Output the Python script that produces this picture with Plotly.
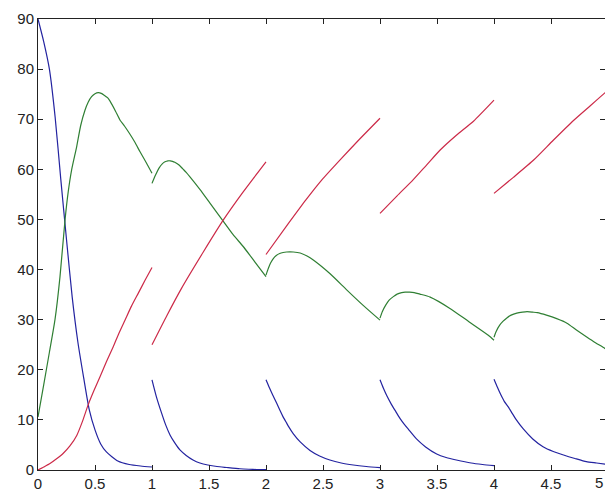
import plotly.graph_objects as go

# ---- data ----
# Blue series, five segments
blue_x1 = [0, 0.05, 0.1, 0.15, 0.2, 0.25, 0.3, 0.35, 0.4, 0.45, 0.5, 0.55, 0.6, 0.7, 0.8, 0.9, 1.0]
blue_y1 = [90, 85.5, 80, 70.5, 58, 46, 34.5, 25.5, 18.5, 12, 8, 5.2, 3.6, 1.8, 1.1, 0.8, 0.6]
blue_x2 = [1.0, 1.04, 1.085, 1.12, 1.158, 1.2, 1.245, 1.3, 1.36, 1.42, 1.49, 1.57, 1.655, 1.77, 1.85, 1.92, 2.0]
blue_y2 = [18, 14.5, 11.3, 9, 7, 5.4, 4.0, 2.9, 2.0, 1.4, 1.0, 0.7, 0.5, 0.25, 0.15, 0.1, 0.1]
blue_x3 = [2.0, 2.03, 2.06, 2.094, 2.12, 2.15, 2.18, 2.2, 2.24, 2.3, 2.386, 2.47, 2.56, 2.66, 2.766, 2.88, 3.0]
blue_y3 = [18, 16.4, 14.9, 13.3, 12.0, 10.6, 9.4, 8.6, 7.2, 5.6, 3.9, 2.8, 2.0, 1.4, 1.0, 0.7, 0.47]
blue_x4 = [3.0, 3.03, 3.06, 3.1, 3.14, 3.175, 3.21, 3.25, 3.32, 3.4, 3.497, 3.58, 3.67, 3.8, 3.9, 4.0]
blue_y4 = [18, 16.3, 14.8, 13.1, 11.6, 10.3, 9.2, 8.1, 6.2, 4.6, 3.2, 2.5, 2.0, 1.4, 1.1, 0.87]
blue_x5 = [4.0, 4.03, 4.06, 4.09, 4.125, 4.16, 4.19, 4.257, 4.34, 4.43, 4.52, 4.61, 4.71, 4.81, 4.9, 5.0]
blue_y5 = [18.1, 16.5, 15, 13.7, 12.6, 11.3, 10.2, 8.2, 6.2, 4.65, 3.7, 3.0, 2.3, 1.66, 1.4, 1.1]

# Green series
green_x1 = [0, 0.05, 0.1, 0.149, 0.193, 0.237, 0.265, 0.295, 0.339, 0.375, 0.412, 0.44, 0.47, 0.5, 0.529, 0.56, 0.58, 0.61, 0.632, 0.68, 0.72, 0.76, 0.807, 0.85, 0.895, 0.95, 1.0]
green_y1 = [10.6, 17, 23.5, 30, 38.6, 49.9, 55.5, 59.9, 64.5, 68.8, 71.8, 73.4, 74.5, 75.1, 75.3, 75.1, 74.8, 74.3, 73.6, 71.6, 69.8, 68.6, 67.0, 65.4, 63.5, 61.3, 59.2]
green_x2 = [1.0, 1.03, 1.06, 1.09, 1.114, 1.14, 1.16, 1.18, 1.2, 1.24, 1.27, 1.3, 1.333, 1.42, 1.51, 1.626, 1.71, 1.8, 1.9, 2.0]
green_y2 = [57.2, 58.8, 60.2, 61.1, 61.5, 61.7, 61.7, 61.6, 61.4, 60.8, 60.1, 59.4, 58.5, 56, 53.2, 49.6, 47, 44.6, 41.6, 38.6]
green_x3 = [2.0, 2.02, 2.04, 2.064, 2.09, 2.12, 2.15, 2.18, 2.24, 2.3, 2.36, 2.415, 2.56, 2.71, 2.85, 3.0]
green_y3 = [38.9, 40.2, 41.3, 42.2, 42.8, 43.2, 43.4, 43.5, 43.5, 43.3, 42.7, 41.9, 39.2, 35.9, 32.9, 29.9]
green_x4 = [3.0, 3.02, 3.05, 3.08, 3.117, 3.15, 3.19, 3.22, 3.26, 3.3, 3.35, 3.44, 3.61, 3.78, 3.95, 4.0]
green_y4 = [30.3, 31.6, 32.9, 33.9, 34.6, 35.1, 35.4, 35.5, 35.5, 35.4, 35.1, 34.5, 32.3, 29.6, 26.9, 25.9]
green_x5 = [4.0, 4.02, 4.05, 4.08, 4.11, 4.15, 4.2, 4.25, 4.29, 4.34, 4.38, 4.46, 4.55, 4.64, 4.72, 4.81, 4.89, 4.97, 5.0]
green_y5 = [26.5, 27.7, 28.9, 29.7, 30.3, 30.9, 31.3, 31.5, 31.6, 31.5, 31.4, 30.9, 30.2, 29.3, 28.0, 26.6, 25.4, 24.3, 23.8]

# Red series
red_x1 = [0, 0.05, 0.105, 0.16, 0.22, 0.28, 0.34, 0.39, 0.44, 0.49, 0.544, 0.6, 0.66, 0.71, 0.763, 0.82, 0.88, 0.94, 1.0]
red_y1 = [0, 0.6, 1.3, 2.2, 3.3, 4.8, 6.9, 9.7, 13, 15.8, 18.6, 21.6, 24.6, 27.3, 29.9, 32.7, 35.3, 37.9, 40.4]
red_x2 = [1.0, 1.13, 1.26, 1.45, 1.626, 1.8, 2.0]
red_y2 = [25, 30.8, 36.3, 43.5, 49.9, 55.5, 61.5]
red_x3 = [2.0, 2.2, 2.35, 2.49, 2.65, 2.82, 3.0]
red_y3 = [43, 49.3, 53.9, 57.9, 61.9, 66, 70.2]
red_x4 = [3.0, 3.15, 3.29, 3.41, 3.53, 3.67, 3.82, 4.0]
red_y4 = [51.2, 54.7, 57.9, 60.9, 63.9, 66.8, 69.6, 73.8]
red_x5 = [4.0, 4.17, 4.35, 4.52, 4.70, 4.84, 4.97, 5.0]
red_y5 = [55.2, 58.4, 61.9, 65.8, 69.8, 72.6, 75.2, 75.8]

x_ticks = [0, 0.5, 1, 1.5, 2, 2.5, 3, 3.5, 4, 4.5, 5]
x_labels = ["0", "0.5", "1", "1.5", "2", "2.5", "3", "3.5", "4", "4.5", "5"]
y_ticks = [0, 10, 20, 30, 40, 50, 60, 70, 80, 90]


def join(*pairs):
    xs, ys = [], []
    for i, (sx, sy) in enumerate(pairs):
        if i:
            xs.append(None)
            ys.append(None)
        xs.extend(sx)
        ys.extend(sy)
    return xs, ys


series = [
    (join((blue_x1, blue_y1), (blue_x2, blue_y2), (blue_x3, blue_y3), (blue_x4, blue_y4), (blue_x5, blue_y5)), "#2323a0"),
    (join((green_x1, green_y1), (green_x2, green_y2), (green_x3, green_y3), (green_x4, green_y4), (green_x5, green_y5)), "#2f7f33"),
    (join((red_x1, red_y1), (red_x2, red_y2), (red_x3, red_y3), (red_x4, red_y4), (red_x5, red_y5)), "#cc2a48"),
]

fig = go.Figure()
for (xs, ys), col in series:
    fig.add_trace(go.Scatter(x=xs, y=ys, mode="lines", line=dict(color=col, width=1.2, shape="spline", smoothing=0.6),
                             connectgaps=False, showlegend=False, hoverinfo="skip"))

W, H = 605, 491
ML, MT, MB = 38, 19, 21
px_per_unit = 114.0
x_max = (W - ML) / px_per_unit

font = dict(family="Liberation Sans, Arial, sans-serif", size=15, color="#222222")

fig.update_layout(
    width=W, height=H,
    margin=dict(l=ML, r=0, t=MT, b=MB, pad=0),
    paper_bgcolor="white", plot_bgcolor="white",
    font=font,
    xaxis=dict(range=[0, x_max], tickvals=x_ticks, ticktext=x_labels,
               ticks="inside", ticklen=5, tickcolor="#222222", tickwidth=1,
               showline=True, linecolor="#222222", linewidth=1, mirror="ticks",
               showgrid=False, zeroline=False, tickfont=font),
    yaxis=dict(range=[0, 90], tickvals=y_ticks,
               ticks="inside", ticklen=5, tickcolor="#222222", tickwidth=1,
               showline=True, linecolor="#222222", linewidth=1, mirror="ticks",
               showgrid=False, zeroline=False, tickfont=font),
)

# last x tick label, whose tick lies just past the window edge; kept fully visible at the right edge
fig.add_annotation(x=1.0, y=0, xref="x domain", yref="y domain", text="5", showarrow=False,
                   xanchor="right", yanchor="top", yshift=-2, font=font)

fig.write_html("out.html")
